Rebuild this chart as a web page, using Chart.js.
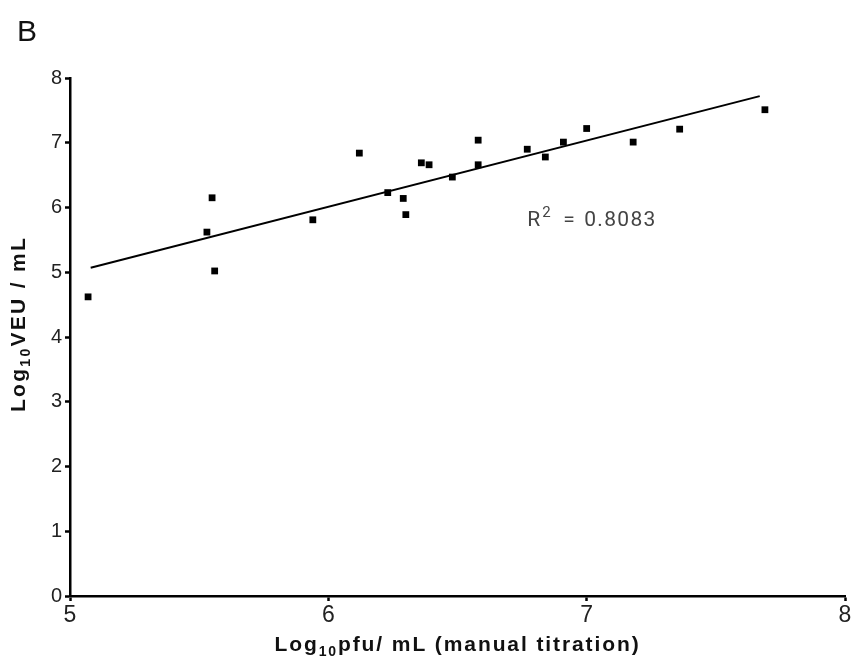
<!DOCTYPE html>
<html>
<head>
<meta charset="utf-8">
<script src="https://cdn.jsdelivr.net/npm/chart.js@4.4.1/dist/chart.umd.min.js"></script>
<style>
  html, body { margin: 0; padding: 0; background: #fff; }
  #wrap { width: 857px; height: 669px; position: relative; }
</style>
</head>
<body>
<div id="wrap"><canvas id="chart" width="857" height="669"></canvas></div>
<script>
// ---- Data ----
const pfuX = [5.07, 5.53, 5.55, 5.56, 5.94, 6.12, 6.23, 6.29, 6.30, 6.36, 6.39,
              6.48, 6.58, 6.58, 6.77, 6.84, 6.91, 7.00, 7.18, 7.36, 7.69];
const veuY = [4.62, 5.62, 6.15, 5.02, 5.81, 6.84, 6.23, 6.14, 5.89, 6.69, 6.66,
              6.47, 6.66, 7.04, 6.90, 6.78, 7.01, 7.22, 7.01, 7.21, 7.51];
const fitX = [5.08, 7.67];
const fitY = [5.07, 7.72];
const xTicks = [5, 6, 7, 8];
const yTicks = [0, 1, 2, 3, 4, 5, 6, 7, 8];
const r2Value = "0.8083";

const ARIAL = "Arial, 'Liberation Sans', sans-serif";

// ---- Plugin for the panel letter, subscripted titles and R² note ----
const extras = {
  id: "extras",
  afterDraw(chart) {
    const ctx = chart.ctx;
    const area = chart.chartArea;
    const xs = chart.scales.x, ys = chart.scales.y;
    ctx.save();

    // panel letter
    ctx.fillStyle = "#111";
    ctx.font = "30px " + ARIAL;
    ctx.textBaseline = "alphabetic";
    ctx.textAlign = "left";
    ctx.fillText("B", 17, 41);

    // title pieces: normal text + subscript "10"
    const setFont = (p, spacing) => {
      ctx.font = p.sub ? "bold 14px " + ARIAL : "bold 21px " + ARIAL;
      ctx.letterSpacing = spacing;
    };
    const measure = (parts, spacing) => parts.reduce((w, p) => {
      setFont(p, spacing);
      return w + ctx.measureText(p.t).width;
    }, 0);
    const subText = (parts, x, y, spacing) => {
      let cx = x;
      parts.forEach(p => {
        setFont(p, spacing);
        ctx.fillText(p.t, cx, y + (p.sub ? 5 : 0));
        cx += ctx.measureText(p.t).width;
      });
    };

    ctx.fillStyle = "#111";
    const xTitle = [{ t: "Log" }, { t: "10", sub: true }, { t: "pfu/ mL (manual titration)" }];
    const xw = measure(xTitle, "1.9px");
    subText(xTitle, (area.left + area.right) / 2 - xw / 2, 651, "1.9px");

    const yTitle = [{ t: "Log" }, { t: "10", sub: true }, { t: "VEU / mL" }];
    const yw = measure(yTitle, "2.3px");
    ctx.translate(25, 324);
    ctx.rotate(-Math.PI / 2);
    subText(yTitle, -yw / 2, 0, "2.3px");
    ctx.setTransform(1, 0, 0, 1, 0, 0);

    // R² annotation
    ctx.letterSpacing = "0px";
    const rx = xs.getPixelForValue(6.77);
    const ry = ys.getPixelForValue(5.72);
    ctx.fillStyle = "#444";
    ctx.font = "21px Roboto, " + ARIAL;
    ctx.fillText("R", rx, ry);
    ctx.font = "15px Roboto, " + ARIAL;
    ctx.fillText("2", rx + 15, ry - 9);
    ctx.font = "21px Roboto, " + ARIAL;
    ctx.fillText("=", rx + 36, ry);
    ctx.letterSpacing = "1.3px";
    ctx.fillText(r2Value, rx + 57, ry);
    ctx.restore();
  }
};

new Chart(document.getElementById("chart"), {
  type: "scatter",
  data: {
    datasets: [
      {
        label: "samples",
        data: pfuX.map((x, i) => ({ x, y: veuY[i] })),
        backgroundColor: "#000",
        borderColor: "#000",
        pointStyle: "rect",
        pointRadius: 4.8,
        borderWidth: 0
      },
      {
        label: "fit",
        type: "line",
        data: fitX.map((x, i) => ({ x, y: fitY[i] })),
        borderColor: "#000",
        borderWidth: 2,
        pointRadius: 0,
        fill: false
      }
    ]
  },
  options: {
    animation: false,
    responsive: false,
    plugins: { legend: { display: false }, tooltip: { enabled: false } },
    layout: { padding: { top: 78, right: 12, left: 0, bottom: 0 } },
    scales: {
      x: {
        type: "linear",
        min: 5, max: 8,
        afterBuildTicks: s => { s.ticks = xTicks.map(v => ({ value: v })); },
        afterFit: s => { s.height = 73; },
        border: { display: true, color: "#000", width: 2.5 },
        grid: { drawOnChartArea: false, tickLength: 5, tickColor: "#000", tickWidth: 2.5 },
        ticks: { color: "#222", font: { family: ARIAL, size: 23 }, padding: 1 }
      },
      y: {
        type: "linear",
        min: 0, max: 8,
        afterBuildTicks: s => { s.ticks = yTicks.map(v => ({ value: v })); },
        afterFit: s => { s.width = 70; },
        border: { display: true, color: "#000", width: 2.5 },
        grid: { drawOnChartArea: false, tickLength: 5, tickColor: "#000", tickWidth: 2.5 },
        ticks: { color: "#222", font: { family: ARIAL, size: 20 }, padding: 3 }
      }
    }
  },
  plugins: [extras]
});
</script>
</body>
</html>
